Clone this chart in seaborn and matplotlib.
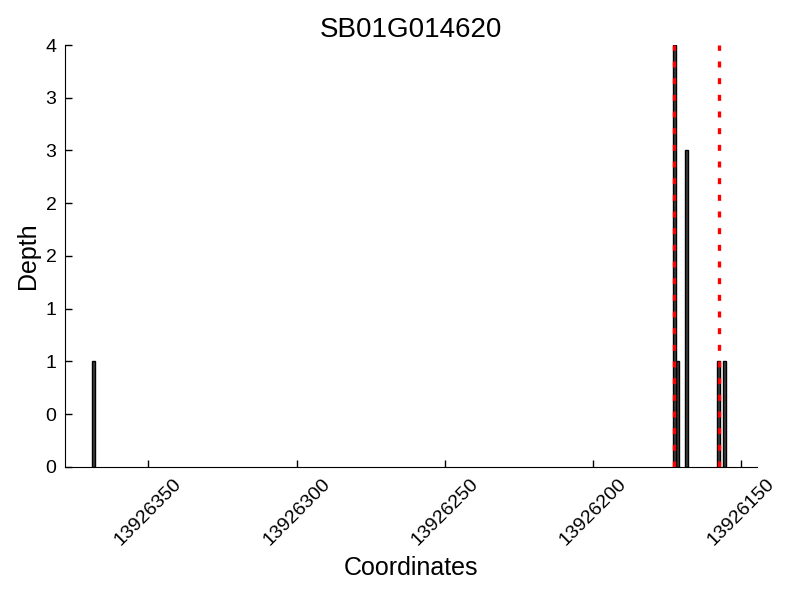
import numpy as np
import pandas as pd
import matplotlib
matplotlib.use('Agg')
import matplotlib.pyplot as plt
from matplotlib.ticker import MultipleLocator, FormatStrFormatter
import seaborn as sns

# Read depth per base position
positions = [13926368, 13926172, 13926171, 13926168, 13926157, 13926155]
depths = [1, 4, 1, 3, 1, 1]
# gene / feature boundaries (red dashed)
marks = [13926172.6, 13926157.4]
title = 'SB01G014620'

sns.set_style('ticks')
plt.rcParams['font.family'] = ['Liberation Sans', 'DejaVu Sans']
plt.rcParams['text.color'] = 'black'
plt.rcParams['axes.labelcolor'] = 'black'
plt.rcParams['xtick.direction'] = 'in'
plt.rcParams['ytick.direction'] = 'in'

df = pd.DataFrame({'pos': np.array(positions) + 0.5, 'depth': depths})

fig, ax = plt.subplots(figsize=(8, 6), dpi=100)
fig.subplots_adjust(left=0.081, right=0.946, top=0.925, bottom=0.222)

sns.barplot(data=df, x='pos', y='depth', native_scale=True, color='#3f3f3f',
            saturation=1, edgecolor='black', linewidth=1, width=1, ax=ax,
            errorbar=None)

for m in marks:
    ax.axvline(m, color='red', linewidth=2.4, linestyle=(0, (1.8, 3.2)), zorder=5)

ax.set_xlim(13926378.2, 13926144.7)
ax.set_ylim(0, 4)
ax.xaxis.set_major_locator(MultipleLocator(50))
ax.xaxis.set_major_formatter(FormatStrFormatter('%d'))
ax.yaxis.set_major_locator(MultipleLocator(0.5))
ax.yaxis.set_major_formatter(FormatStrFormatter('%d'))

sns.despine(ax=ax)
ax.tick_params(direction='in', length=5, width=1, labelsize=14,
               color='black', labelcolor='black')
ax.tick_params(axis='x', labelrotation=45, pad=6)
ax.tick_params(axis='y', pad=6)
for sp in ax.spines.values():
    sp.set_color('black')

ax.set_title(title, fontsize=20, color='black')
ax.set_xlabel('Coordinates', fontsize=18, color='black', labelpad=5)
ax.set_ylabel('Depth', fontsize=18, color='black')

plt.savefig('out.png', dpi=100)
plt.close()
